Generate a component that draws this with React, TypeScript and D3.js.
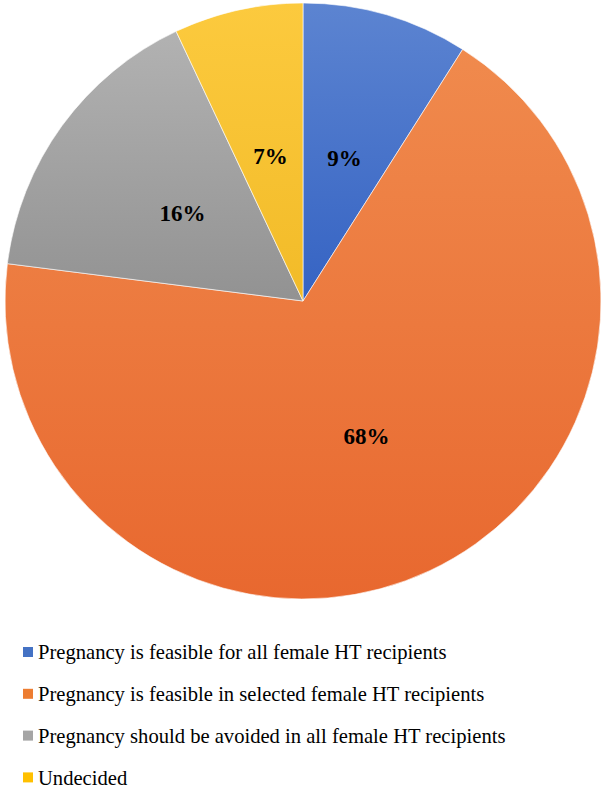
import { useEffect, useRef } from 'react';
import * as d3 from 'd3';

const categories = [
  'Pregnancy is feasible for all female HT recipients',
  'Pregnancy is feasible in selected female HT recipients',
  'Pregnancy should be avoided in all female HT recipients',
  'Undecided',
];
const values = [9, 68, 16, 7];
const topColors = ['#5c84d1', '#f08a4d', '#b2b2b2', '#fcca3e'];
const bottomColors = ['#3563c3', '#e8682f', '#929292', '#f2bb28'];
const legendColors = ['#4472c4', '#ed7d31', '#a5a5a5', '#ffc000'];

const App = () => {
  const svgRef = useRef<SVGSVGElement>(null);

  useEffect(() => {
    const svg = d3.select(svgRef.current);
    svg.selectAll('*').remove();

    const width = 606;
    const height = 792;
    const cx = 303;
    const cy = 301;
    const radius = 298;

    svg.attr('width', width).attr('height', height);

    const data = categories.map((c, i) => ({ category: c, value: values[i], i }));

    // gradients, light at top, darker at bottom
    const defs = svg.append('defs');
    data.forEach(d => {
      const grad = defs.append('linearGradient')
        .attr('id', `grad-${d.i}`)
        .attr('x1', 0).attr('y1', 0).attr('x2', 0).attr('y2', 1);
      grad.append('stop').attr('offset', '0%').attr('stop-color', topColors[d.i]);
      grad.append('stop').attr('offset', '100%').attr('stop-color', bottomColors[d.i]);
    });

    const g = svg.append('g').attr('transform', `translate(${cx},${cy})`);

    const pie = d3.pie<any>().value(d => d.value).sort(null);
    const arc = d3.arc<any>().innerRadius(0).outerRadius(radius);
    const labelArc = d3.arc<any>().innerRadius(radius * 0.5).outerRadius(radius * 0.5);

    const slices = g.selectAll('.slice')
      .data(pie(data))
      .enter().append('g')
      .attr('class', 'slice');

    slices.append('path')
      .attr('d', arc)
      .attr('fill', d => `url(#grad-${d.data.i})`)
      .attr('stroke', '#ffffff')
      .attr('stroke-opacity', 0.6)
      .attr('stroke-width', 1);

    slices.append('text')
      .attr('transform', d => `translate(${labelArc.centroid(d)})`)
      .attr('dy', '0.35em')
      .attr('text-anchor', 'middle')
      .style('font-family', '"Liberation Serif", "Times New Roman", serif')
      .style('font-weight', 'bold')
      .style('font-size', '23px')
      .style('fill', '#000')
      .text(d => `${d.data.value}%`);

    // Legend
    const legend = svg.append('g').attr('transform', 'translate(23,652)');
    const rows = legend.selectAll('.row')
      .data(data)
      .enter().append('g')
      .attr('class', 'row')
      .attr('transform', d => `translate(0,${d.i * 41.8})`);

    rows.append('rect')
      .attr('x', 0)
      .attr('y', -5)
      .attr('width', 10)
      .attr('height', 10)
      .attr('fill', d => legendColors[d.i]);

    rows.append('text')
      .attr('x', 15)
      .attr('dy', '0.35em')
      .style('font-family', '"Liberation Serif", "Times New Roman", serif')
      .style('font-size', '20.6px')
      .style('fill', '#000')
      .text(d => d.category);
  }, []);

  return (
    <div style={{ position: 'absolute', left: 0, top: 0 }}>
      <svg ref={svgRef} style={{ display: 'block' }}></svg>
    </div>
  );
};

export default App;
